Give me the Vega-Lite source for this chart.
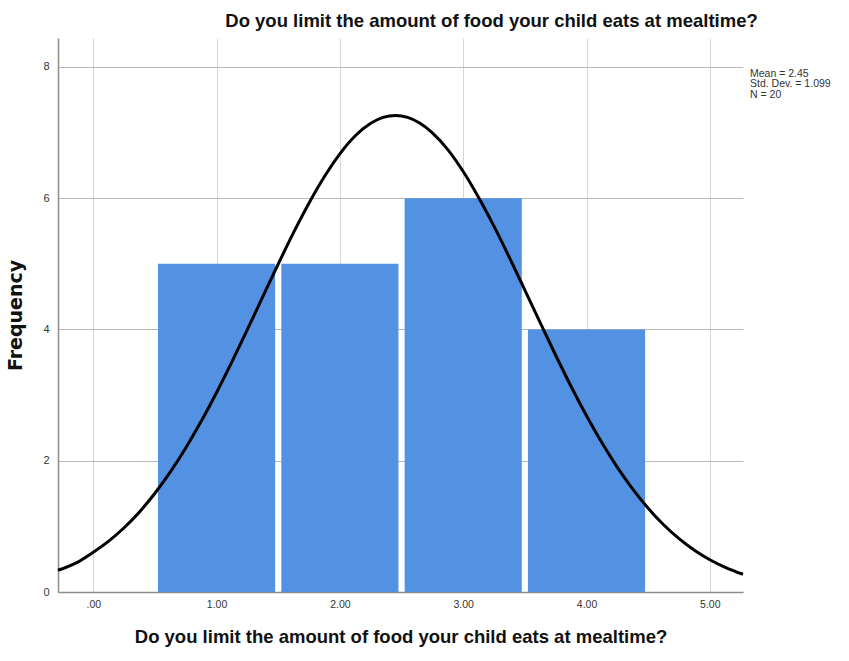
{
  "$schema": "https://vega.github.io/schema/vega-lite/v6.json",
  "width": 685,
  "height": 554,
  "autosize": {"type": "none"},
  "padding": {"left": 58, "top": 38, "right": 106, "bottom": 69},
  "background": "white",
  "config": {
    "view": {"stroke": null},
    "font": "Liberation Sans"
  },
  "title": {
    "text": "Do you limit the amount of food your child eats at mealtime?",
    "anchor": "middle",
    "dx": 91,
    "offset": 8,
    "font": "Liberation Sans",
    "fontSize": 18.5,
    "fontWeight": "bold",
    "color": "#111111"
  },
  "datasets": {
    "bars": [
      {"value": 1, "lo": 0.525, "hi": 1.475, "count": 5},
      {"value": 2, "lo": 1.525, "hi": 2.475, "count": 5},
      {"value": 3, "lo": 2.525, "hi": 3.475, "count": 6},
      {"value": 4, "lo": 3.525, "hi": 4.475, "count": 4}
    ],
    "curve": [
      {"x": -0.286, "y": 0.331},
      {"x": -0.125, "y": 0.456},
      {"x": 0.0, "y": 0.605},
      {"x": 0.125, "y": 0.774},
      {"x": 0.25, "y": 0.979},
      {"x": 0.375, "y": 1.220},
      {"x": 0.5, "y": 1.504},
      {"x": 0.625, "y": 1.830},
      {"x": 0.75, "y": 2.195},
      {"x": 0.875, "y": 2.600},
      {"x": 1.0, "y": 3.040},
      {"x": 1.125, "y": 3.510},
      {"x": 1.25, "y": 4.000},
      {"x": 1.375, "y": 4.500},
      {"x": 1.5, "y": 4.997},
      {"x": 1.625, "y": 5.478},
      {"x": 1.75, "y": 5.927},
      {"x": 1.875, "y": 6.330},
      {"x": 2.0, "y": 6.676},
      {"x": 2.125, "y": 6.950},
      {"x": 2.25, "y": 7.141},
      {"x": 2.35, "y": 7.230},
      {"x": 2.45, "y": 7.260},
      {"x": 2.55, "y": 7.230},
      {"x": 2.65, "y": 7.141},
      {"x": 2.75, "y": 6.995},
      {"x": 2.875, "y": 6.740},
      {"x": 3.0, "y": 6.406},
      {"x": 3.125, "y": 6.010},
      {"x": 3.25, "y": 5.570},
      {"x": 3.375, "y": 5.095},
      {"x": 3.5, "y": 4.600},
      {"x": 3.625, "y": 4.100},
      {"x": 3.75, "y": 3.607},
      {"x": 3.875, "y": 3.131},
      {"x": 4.0, "y": 2.685},
      {"x": 4.125, "y": 2.273},
      {"x": 4.25, "y": 1.899},
      {"x": 4.375, "y": 1.567},
      {"x": 4.5, "y": 1.275},
      {"x": 4.625, "y": 1.024},
      {"x": 4.75, "y": 0.813},
      {"x": 4.875, "y": 0.637},
      {"x": 5.0, "y": 0.492},
      {"x": 5.125, "y": 0.376},
      {"x": 5.269, "y": 0.270}
    ],
    "stats": [
      {"label": "Mean = 2.45", "xpos": 5.269, "ypos": 7.97}
    ]
  },
  "layer": [
    {
      "data": {"name": "bars"},
      "mark": {"type": "rect", "color": "#5391e3"},
      "encoding": {
        "x": {
          "field": "lo",
          "type": "quantitative",
          "scale": {"domain": [-0.286, 5.269], "nice": false, "zero": false},
          "axis": {
            "values": [0, 1, 2, 3, 4, 5],
            "labelExpr": "datum.value == 0 ? '.00' : format(datum.value, '.2f')",
            "grid": true,
            "gridColor": "#d6d6d6",
            "gridWidth": 1,
            "ticks": false,
            "domainColor": "#8c8c8c",
            "domainWidth": 1.5,
            "labelFont": "Liberation Sans",
            "labelFontSize": 10.5,
            "labelColor": "#333333",
            "labelPadding": 7,
            "title": "Do you limit the amount of food your child eats at mealtime?",
            "titleFont": "Liberation Sans",
            "titleFontSize": 18.5,
            "titleFontWeight": "bold",
            "titleColor": "#111111",
            "titlePadding": 18
          }
        },
        "x2": {"field": "hi"},
        "y": {
          "field": "count",
          "type": "quantitative",
          "scale": {"domain": [0, 8.44], "nice": false},
          "axis": {
            "values": [0, 2, 4, 6, 8],
            "format": "d",
            "grid": true,
            "gridColor": "#b8b8b8",
            "gridWidth": 1,
            "ticks": false,
            "domainColor": "#8c8c8c",
            "domainWidth": 1.5,
            "labelFont": "Liberation Sans",
            "labelFontSize": 11,
            "labelColor": "#333333",
            "labelPadding": 9,
            "title": "Frequency",
            "titleFont": "DejaVu Sans",
            "titleFontSize": 19,
            "titleFontWeight": "bold",
            "titleColor": "#111111",
            "titlePadding": 17
          }
        },
        "y2": {"datum": 0}
      }
    },
    {
      "data": {"name": "curve"},
      "mark": {"type": "line", "color": "#000000", "strokeWidth": 3, "interpolate": "monotone"},
      "encoding": {
        "x": {"field": "x", "type": "quantitative"},
        "y": {"field": "y", "type": "quantitative"}
      }
    },
    {
      "data": {"name": "stats"},
      "mark": {
        "type": "text",
        "text": ["Mean = 2.45", "Std. Dev. = 1.099", "N = 20"],
        "align": "left",
        "baseline": "top",
        "dx": 7,
        "font": "Liberation Sans",
        "fontSize": 10.5,
        "lineHeight": 10.5,
        "color": "#333333",
        "clip": false
      },
      "encoding": {
        "x": {"field": "xpos", "type": "quantitative"},
        "y": {"field": "ypos", "type": "quantitative"}
      }
    }
  ]
}
